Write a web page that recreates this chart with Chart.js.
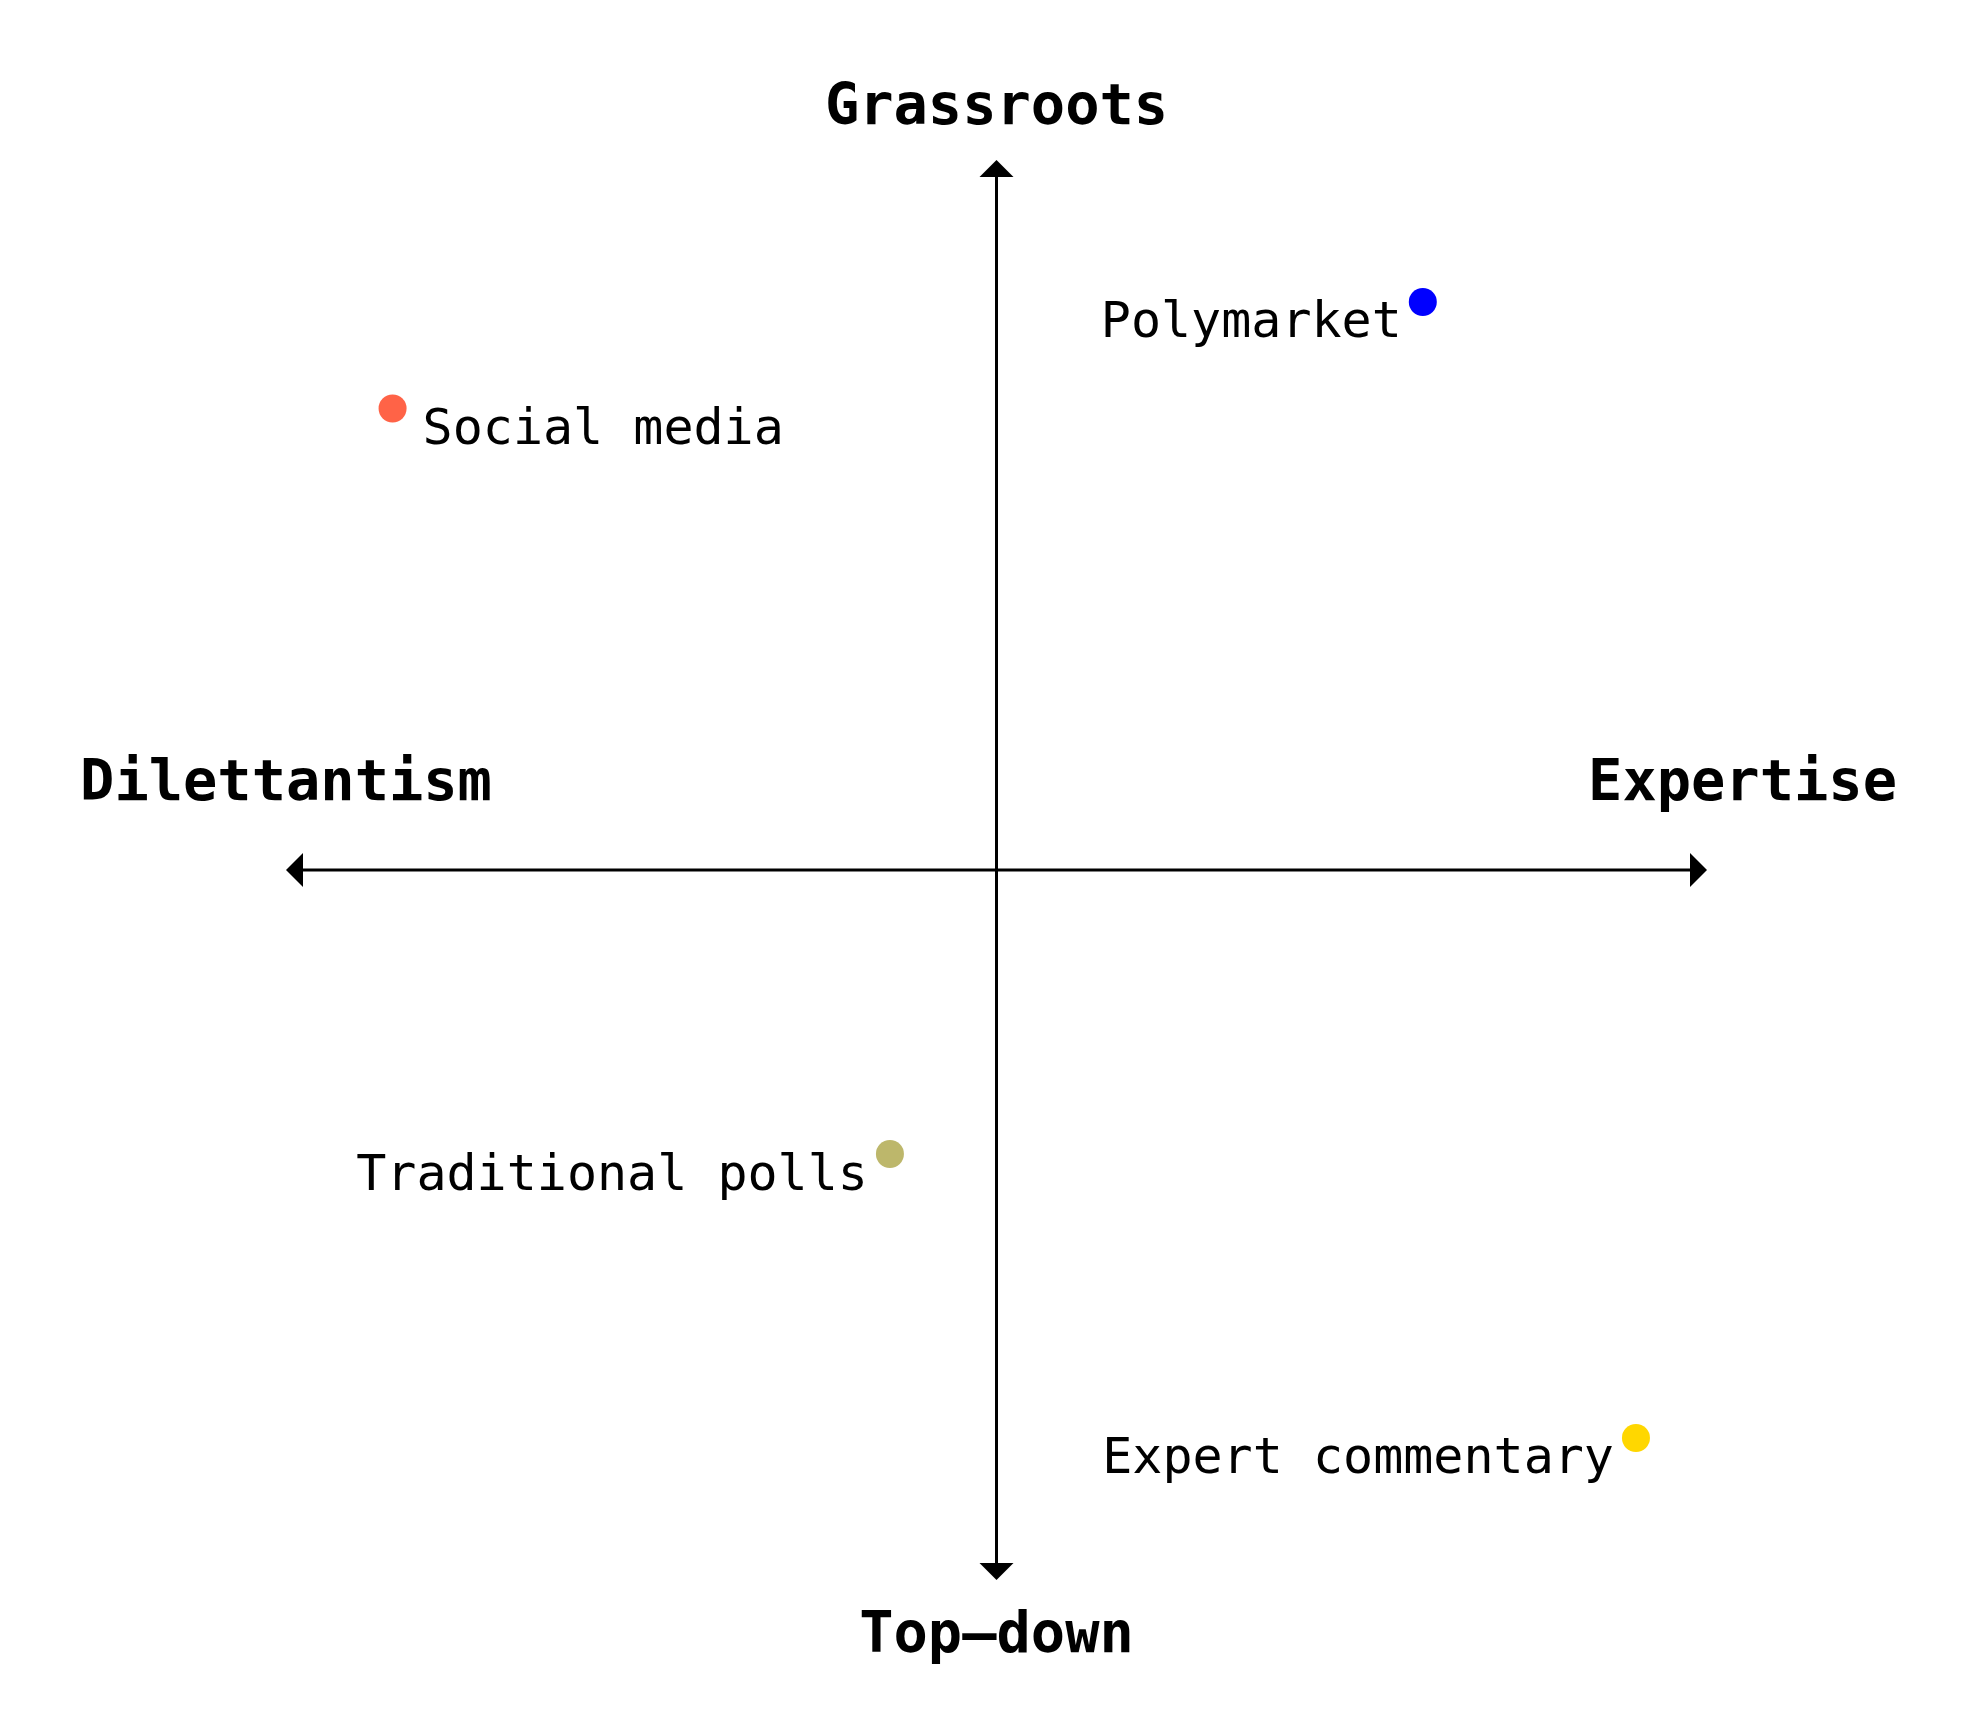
<!DOCTYPE html>
<html>
<head>
<meta charset="utf-8">
<script src="https://cdn.jsdelivr.net/npm/chart.js@4/dist/chart.umd.min.js"></script>
<style>
html,body{margin:0;padding:0;background:#fff;}
#wrap{width:1980px;height:1710px;position:relative;}
</style>
</head>
<body>
<div id="wrap"><canvas id="c" width="1980" height="1710"></canvas></div>
<script>
// Data
const categories = ["Social media", "Polymarket", "Traditional polls", "Expert commentary"];
const xValues = [-0.85, 0.6, -0.15, 0.9];   // Dilettantism (-) → Expertise (+)
const yValues = [0.65, 0.8, -0.4, -0.8];    // Top-down (-) → Grassroots (+)
const pointColors = ["#FF6347", "#0000FF", "#BDB76B", "#FFD700"];
const axisTitles = { top: "Grassroots", bottom: "Top–down", left: "Dilettantism", right: "Expertise" };

// Label placement (style only)
const labelStyle = [
  { align: "left",  dx: 30,  dy: 35 },
  { align: "right", dx: -21, dy: 35 },
  { align: "right", dx: -22, dy: 36 },
  { align: "right", dx: -22, dy: 35 }
];

const points = categories.map((c, i) => ({ x: xValues[i], y: yValues[i] }));

const quadrantPlugin = {
  id: "quadrant",
  beforeDatasetsDraw(chart) {
    const ctx = chart.ctx;
    const xs = chart.scales.x, ys = chart.scales.y;
    const x0 = xs.getPixelForValue(0), y0 = ys.getPixelForValue(0);
    const xl = xs.getPixelForValue(-1), xr = xs.getPixelForValue(1);
    const yt = ys.getPixelForValue(1), yb = ys.getPixelForValue(-1);
    ctx.save();
    ctx.strokeStyle = "#000";
    ctx.fillStyle = "#000";
    ctx.lineWidth = 3;
    const ah = 17, aw = 17;
    ctx.beginPath();
    ctx.moveTo(xl + ah - 2, y0); ctx.lineTo(xr - ah + 2, y0);
    ctx.moveTo(x0, yt + ah - 2); ctx.lineTo(x0, yb - ah + 2);
    ctx.stroke();
    // arrowheads
    ctx.beginPath();
    ctx.moveTo(xl, y0); ctx.lineTo(xl + ah, y0 - aw); ctx.lineTo(xl + ah, y0 + aw); ctx.closePath();
    ctx.moveTo(xr, y0); ctx.lineTo(xr - ah, y0 - aw); ctx.lineTo(xr - ah, y0 + aw); ctx.closePath();
    ctx.moveTo(x0, yt); ctx.lineTo(x0 - aw, yt + ah); ctx.lineTo(x0 + aw, yt + ah); ctx.closePath();
    ctx.moveTo(x0, yb); ctx.lineTo(x0 - aw, yb - ah); ctx.lineTo(x0 + aw, yb - ah); ctx.closePath();
    ctx.fill();

    // axis titles
    ctx.font = "bold 57px 'DejaVu Sans Mono'";
    ctx.textBaseline = "alphabetic";
    ctx.textAlign = "center";
    ctx.fillText(axisTitles.top, x0, yt - 36);
    ctx.fillText(axisTitles.bottom, x0, yb + 72);
    ctx.fillText(axisTitles.left, xl, y0 - 70);
    ctx.fillText(axisTitles.right, xs.getPixelForValue(1.05), y0 - 70);
    ctx.restore();
  },
  afterDatasetsDraw(chart) {
    const ctx = chart.ctx;
    const meta = chart.getDatasetMeta(0);
    ctx.save();
    ctx.font = "50px 'DejaVu Sans Mono'";
    ctx.fillStyle = "#000";
    ctx.textBaseline = "alphabetic";
    meta.data.forEach((el, i) => {
      const s = labelStyle[i];
      ctx.textAlign = s.align;
      ctx.fillText(categories[i], el.x + s.dx, el.y + s.dy);
    });
    ctx.restore();
  }
};

new Chart(document.getElementById("c"), {
  type: "scatter",
  data: {
    datasets: [{
      data: points,
      backgroundColor: pointColors,
      borderWidth: 0,
      pointRadius: 14,
      pointHoverRadius: 14
    }]
  },
  options: {
    responsive: false,
    animation: false,
    events: [],
    layout: { padding: { left: 286, right: 273, top: 160, bottom: 130 } },
    plugins: { legend: { display: false }, tooltip: { enabled: false } },
    scales: {
      x: { type: "linear", min: -1, max: 1, display: false },
      y: { type: "linear", min: -1, max: 1, display: false }
    }
  },
  plugins: [quadrantPlugin]
});
</script>
</body>
</html>
